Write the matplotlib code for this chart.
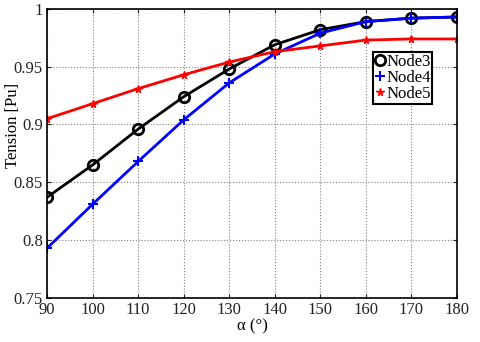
import matplotlib
matplotlib.use('Agg')
import matplotlib.pyplot as plt

alpha = [90, 100, 110, 120, 130, 140, 150, 160, 170, 180]
node3 = [0.837, 0.865, 0.896, 0.924, 0.948, 0.969, 0.982, 0.989, 0.992, 0.993]
node4 = [0.793, 0.831, 0.868, 0.904, 0.936, 0.961, 0.979, 0.989, 0.992, 0.993]
node5 = [0.905, 0.918, 0.931, 0.943, 0.954, 0.963, 0.968, 0.973, 0.974, 0.974]

plt.rcParams['font.family'] = ['Liberation Serif', 'DejaVu Serif']
plt.rcParams['font.size'] = 12

fig = plt.figure(figsize=(4.8, 3.42), dpi=100)
ax = fig.add_axes([0.098, 0.129, 0.854, 0.845])

ax.plot(alpha, node3, '-o', color='black', lw=2, ms=7.5, mfc='none', mew=2, label='Node3')
ax.plot(alpha, node4, '-+', color='blue', lw=2, ms=7, mew=1.5, label='Node4')
ax.plot(alpha, node5, '-*', color='red', lw=2, ms=5.5, label='Node5')

ax.set_xlim(90, 180)
ax.set_ylim(0.75, 1.0)
ax.set_xticks(range(90, 181, 10))
ax.set_yticks([0.75, 0.8, 0.85, 0.9, 0.95, 1.0])
ax.set_yticklabels(['0.75', '0.8', '0.85', '0.9', '0.95', '1'])
ax.grid(True, color='gray', linestyle=':', linewidth=0.8)
ax.tick_params(direction='in', top=True, right=True, length=3, pad=3, colors='#222222')
for s in ax.spines.values():
    s.set_linewidth(1.2)
ax.set_xlabel('α (°)', labelpad=0)
ax.set_ylabel('Tension [Pu]')
ax.yaxis.set_label_coords(-0.064, 0.595)

leg = ax.legend(loc='upper left', bbox_to_anchor=(0.795, 0.85), fontsize=12,
                handlelength=0.6, handletextpad=0.1, borderpad=0.1,
                labelspacing=0.0, borderaxespad=0, fancybox=False, framealpha=1)
leg.get_frame().set_edgecolor('black')
leg.get_frame().set_linewidth(1.5)
for h in leg.legend_handles:
    h.set_linestyle('none')

fig.savefig('out.png', dpi=100)
